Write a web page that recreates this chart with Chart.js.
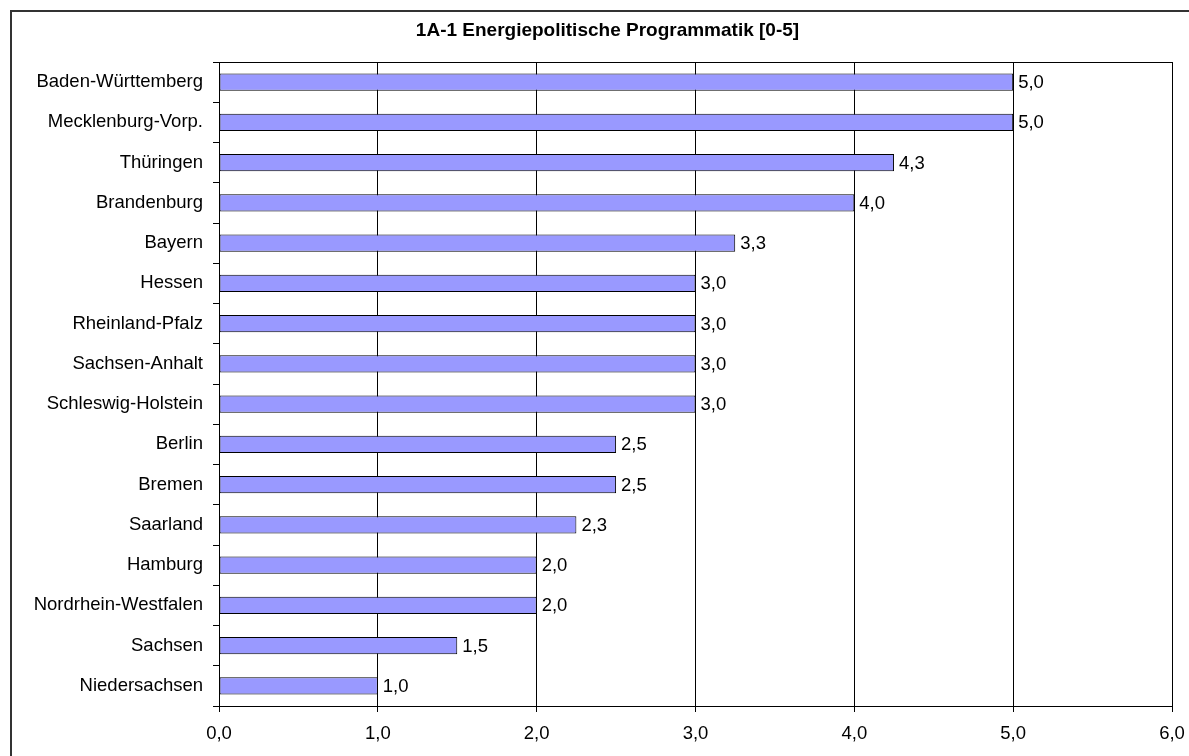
<!DOCTYPE html>
<html lang="de">
<head>
<meta charset="utf-8">
<title>1A-1 Energiepolitische Programmatik</title>
<script src="https://cdn.jsdelivr.net/npm/chart.js@4/dist/chart.umd.min.js"></script>
<style>
    html, body { margin: 0; padding: 0; background: #fff; overflow: hidden; }
    canvas { display: block; }
</style>
</head>
<body>
<canvas id="grafik" width="1215" height="790"></canvas>
<script>
// --- Daten ---
const laender = [
    'Baden-Württemberg', 'Mecklenburg-Vorp.', 'Thüringen', 'Brandenburg',
    'Bayern', 'Hessen', 'Rheinland-Pfalz', 'Sachsen-Anhalt',
    'Schleswig-Holstein', 'Berlin', 'Bremen', 'Saarland',
    'Hamburg', 'Nordrhein-Westfalen', 'Sachsen', 'Niedersachsen'
];
const punkte = [5, 5, 4.25, 4, 3.25, 3, 3, 3, 3, 2.5, 2.5, 2.25, 2, 2, 1.5, 1];
const achseMin = 0;
const achseMax = 6;
const achseSchritt = 1;
const titel = '1A-1 Energiepolitische Programmatik [0-5]';

const schrift = 'Liberation Sans, Arial, sans-serif';
const textFarbe = '#000';

// Zahl mit einer Nachkommastelle und Komma
function formatiere(wert) {
    return Number(wert).toFixed(1).replace('.', ',');
}

// Rahmen um das ganze Diagramm, Titel und obere Kante der Zeichenfläche
const rahmenPlugin = {
    id: 'rahmen',
    beforeDraw(chart) {
        const ctx = chart.ctx;
        ctx.save();
        ctx.strokeStyle = '#333';
        ctx.lineWidth = 2;
        ctx.strokeRect(11, 11, chart.width - 22, chart.height - 22);
        // Titel mittig über dem ganzen Rahmen
        ctx.font = 'bold 19px ' + schrift;
        ctx.fillStyle = textFarbe;
        ctx.textAlign = 'center';
        ctx.textBaseline = 'middle';
        ctx.fillText(titel, chart.width / 2, 31);
        ctx.restore();
    },
    afterDraw(chart) {
        const a = chart.chartArea;
        const ctx = chart.ctx;
        ctx.save();
        ctx.strokeStyle = '#000';
        ctx.lineWidth = 1;
        ctx.beginPath();
        ctx.moveTo(Math.round(a.left) + 0.5, Math.round(a.top) + 0.5);
        ctx.lineTo(Math.round(a.right) + 0.5, Math.round(a.top) + 0.5);
        ctx.stroke();
        ctx.restore();
    }
};

// Werte rechts neben die Balken schreiben
const wertePlugin = {
    id: 'werte',
    afterDatasetsDraw(chart) {
        const ctx = chart.ctx;
        const meta = chart.getDatasetMeta(0);
        ctx.save();
        ctx.font = '18.5px ' + schrift;
        ctx.fillStyle = textFarbe;
        ctx.textAlign = 'left';
        ctx.textBaseline = 'middle';
        meta.data.forEach((balken, i) => {
            ctx.fillText(formatiere(punkte[i]), balken.x + 5, balken.y + 1);
        });
        ctx.restore();
    }
};

new Chart(document.getElementById('grafik').getContext('2d'), {
    type: 'bar',
    data: {
        labels: laender,
        datasets: [{
            data: punkte,
            backgroundColor: '#9999ff',
            borderColor: '#000',
            borderWidth: 1,
            borderSkipped: false,
            barPercentage: 0.43,
            categoryPercentage: 1
        }]
    },
    options: {
        indexAxis: 'y',
        responsive: false,
        animation: false,
        layout: {
            padding: { top: 62, right: 43, bottom: 0, left: 0 }
        },
        plugins: {
            legend: { display: false },
            tooltip: { enabled: false },
            title: { display: false }
        },
        scales: {
            x: {
                min: achseMin,
                max: achseMax,
                afterFit(scale) { scale.height = 84; },
                ticks: {
                    stepSize: achseSchritt,
                    color: textFarbe,
                    font: { family: schrift, size: 18.5 },
                    padding: 11,
                    callback: (wert) => formatiere(wert)
                },
                grid: { color: '#000', lineWidth: 1, tickLength: 6, drawTicks: true },
                border: { display: true, color: '#000', width: 1 }
            },
            y: {
                afterFit(scale) { scale.width = 219; },
                ticks: {
                    color: textFarbe,
                    font: { family: schrift, size: 18.5 },
                    padding: 10
                },
                grid: { drawOnChartArea: false, color: '#000', tickLength: 6, offset: true },
                border: { display: true, color: '#000', width: 1 }
            }
        }
    },
    plugins: [rahmenPlugin, wertePlugin]
});
</script>
</body>
</html>
